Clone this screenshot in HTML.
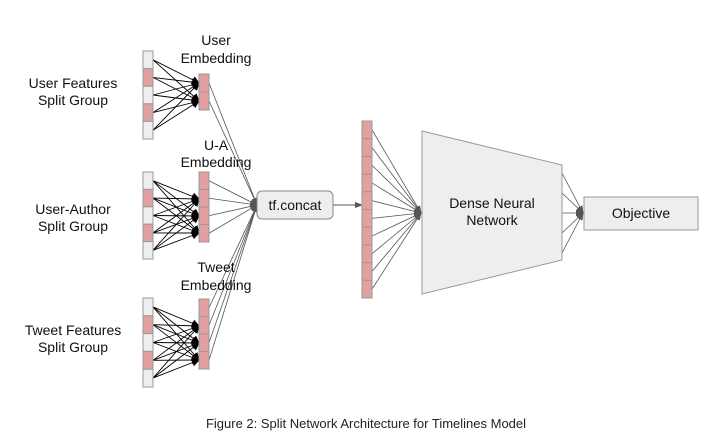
<!DOCTYPE html>
<html><head><meta charset="utf-8"><style>
html,body{margin:0;padding:0;background:#fff;}
svg{display:block;font-family:"Liberation Sans",Arial,sans-serif;}
</style></head><body>
<svg id="s" width="720" height="446" viewBox="0 0 720 446" xmlns="http://www.w3.org/2000/svg">
<defs>
<marker id="ab" markerWidth="8" markerHeight="8" refX="7" refY="4" orient="auto" markerUnits="userSpaceOnUse"><path d="M0,0 L8,4 L0,8 z" fill="#000"/></marker>
<marker id="ag" markerWidth="8" markerHeight="8" refX="7" refY="4" orient="auto" markerUnits="userSpaceOnUse"><path d="M0,1 L8,4 L0,7 z" fill="#555"/></marker>
</defs>
<g id="lines"></g>
<g id="shapes"></g>
<g font-size="14" fill="#111" text-anchor="middle">
<text x="216" y="45">User</text><text x="216" y="63">Embedding</text>
<text x="216" y="150">U-A</text><text x="216" y="167">Embedding</text>
<text x="216" y="272">Tweet</text><text x="216" y="290">Embedding</text>
<text x="73" y="88">User Features</text><text x="73" y="105">Split Group</text>
<text x="73" y="214">User-Author</text><text x="73" y="231">Split Group</text>
<text x="73" y="335">Tweet Features</text><text x="73" y="352">Split Group</text>
<text x="295" y="210">tf.concat</text>
<text x="492" y="208">Dense Neural</text><text x="492" y="225">Network</text>
<text x="641" y="218">Objective</text>
<text x="366" y="428" font-size="13" fill="#222">Figure 2: Split Network Architecture for Timelines Model</text>
</g>
</svg>
<script>
var NS="http://www.w3.org/2000/svg";
var L=document.getElementById("lines"),S=document.getElementById("shapes");
function el(p,t,a){var e=document.createElementNS(NS,t);for(var k in a)e.setAttribute(k,a[k]);p.appendChild(e);return e;}
function line(x1,y1,x2,y2,c,w,m){var a={x1:x1,y1:y1,x2:x2,y2:y2,stroke:c,"stroke-width":w};if(m)a["marker-end"]="url(#"+m+")";el(L,"line",a);}
var PINK="#e3a0a0",GREY="#eeeeee",BR="#999";
function col(x,y0,y1,n,pat){var h=(y1-y0)/n,cs=[];for(var i=0;i<n;i++){el(S,"rect",{x:x,y:y0+i*h,width:10,height:h,fill:pat[i]?PINK:GREY,stroke:BR,"stroke-width":1});cs.push(y0+i*h+h/2);}return cs;}
function group(iy0,iy1,ey0,ey1,en,targets){
  var ih=(iy1-iy0)/5,ins=[];for(var i=0;i<5;i++)ins.push(iy0+i*ih+ih/2);
  ins.forEach(function(a){targets.forEach(function(b){line(153,a,199,b,"#000",0.9,"ab");});});
  col(143,iy0,iy1,5,[0,1,0,1,0]);
  var pat=[];for(var i=0;i<en;i++)pat.push(1);
  var ec=col(199,ey0,ey1,en,pat);
  ec.forEach(function(y){line(209,y,257,205,"#555",0.8,"ag");});
}
group(51,139,74,110,2,[83,101]);
group(172,259,172,242,4,[199,216,233]);
group(298,387,299,369,4,[326,343,360]);
// concat box
el(S,"rect",{x:257,y:191,width:76,height:28,rx:5,fill:GREY,stroke:"#888","stroke-width":1});
line(333,205,362,205,"#555",0.9,"ag");
var cc=col(362,121,298,10,[1,1,1,1,1,1,1,1,1,1]);
cc.forEach(function(y){line(372,y,421,213,"#555",0.8,"ag");});
el(S,"polygon",{points:"422,131 562,165 562,260 422,294",fill:GREY,stroke:BR,"stroke-width":1});
[173,193,213,233,253].forEach(function(y){line(562,y,583,213,"#555",0.8,"ag");});
el(S,"rect",{x:584,y:197,width:114,height:33,fill:GREY,stroke:BR,"stroke-width":1});
</script>
</body></html>
